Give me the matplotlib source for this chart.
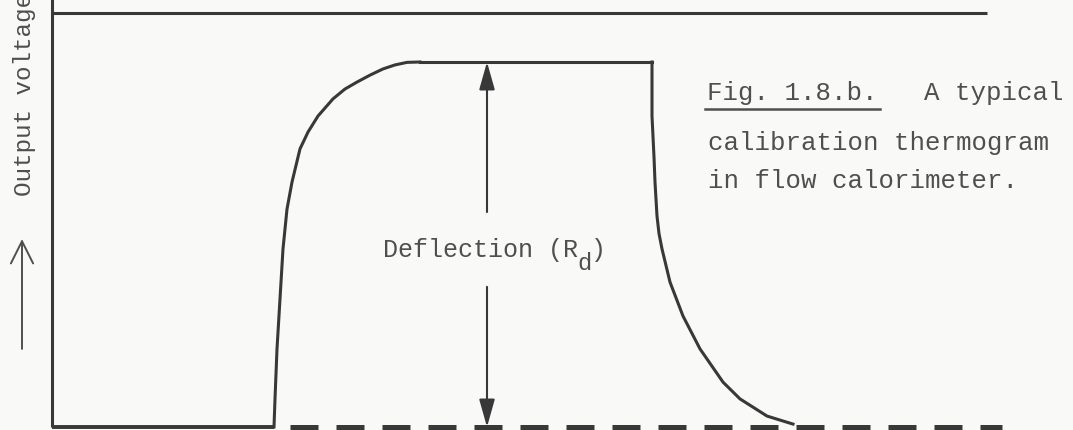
import matplotlib
matplotlib.use("Agg")
import matplotlib.pyplot as plt

# --- thermogram data (time in arbitrary units, output voltage normalised to plateau) ---
rise_t = [2.22, 2.23, 2.25, 2.28, 2.31, 2.35, 2.40, 2.48, 2.56, 2.66, 2.81, 2.93,
          3.05, 3.18, 3.31, 3.43, 3.55, 3.68]
rise_v = [0.000, 0.077, 0.214, 0.351, 0.488, 0.597, 0.671, 0.762, 0.808, 0.852,
          0.899, 0.926, 0.945, 0.964, 0.981, 0.992, 0.999, 1.000]

plateau_t = [3.68, 6.00]
plateau_v = [1.0, 1.0]

decay_t = [6.00, 6.00, 6.02, 6.03, 6.05, 6.07, 6.10, 6.18, 6.31, 6.48, 6.71, 6.88,
           7.15, 7.41]
decay_v = [1.000, 0.852, 0.740, 0.671, 0.578, 0.530, 0.488, 0.397, 0.304, 0.214,
           0.123, 0.077, 0.030, 0.008]

baseline_t = [0.0, 2.22]          # solid baseline before the heater is switched on
dashed_base_t = [2.38, 9.50]      # extrapolated baseline
upper_t = [0.0, 9.35]             # upper reference line
upper_v = 1.134
deflection_t = 4.35               # where the deflection R_d is measured

INK = "#383838"
TEXT = "#4f4f4f"
MONO = ["Liberation Mono", "DejaVu Sans Mono"]
FS = 18.5

fig = plt.figure(figsize=(10.73, 4.31), dpi=100, facecolor="#f9f9f8")
ax = fig.add_axes([0, 0, 1, 1])
ax.set_facecolor("#f9f9f8")
ax.set_xlim(-0.52, 10.21)
ax.set_ylim(-0.0082, 1.1726)
ax.axis("off")

lw = 2.2
# axes of the recorder trace
ax.plot([0, 0], [0, 1.2], color=INK, lw=lw, solid_capstyle="butt")
ax.plot(upper_t, [upper_v, upper_v], color=INK, lw=lw, solid_capstyle="butt")
ax.plot(baseline_t, [0, 0], color=INK, lw=lw + 0.6, solid_capstyle="butt")
ax.plot(dashed_base_t, [0, 0], color=INK, lw=3.6, dashes=(5.6, 3.6),
        solid_capstyle="butt")

# the thermogram itself
ax.plot(rise_t, rise_v, color=INK, lw=lw, solid_joinstyle="round")
ax.plot(plateau_t, plateau_v, color=INK, lw=lw)
ax.plot(decay_t, decay_v, color=INK, lw=lw, solid_joinstyle="round")

# deflection arrows
arrow_kw = dict(arrowstyle="-|>,head_length=0.85,head_width=0.24", color=INK,
                lw=1.5, shrinkA=0, shrinkB=0, mutation_scale=20)
ax.annotate("", xy=(deflection_t, 1.0), xytext=(deflection_t, 0.589),
            arrowprops=arrow_kw)
ax.annotate("", xy=(deflection_t, 0.0), xytext=(deflection_t, 0.384),
            arrowprops=arrow_kw)

# "Deflection (R_d)" typed in monospace, with a full-size lowered subscript
char_pt = 0.6 * 18
lab_x, lab_y = 3.31, 0.468
ax.text(lab_x, lab_y, "Deflection (R", family=MONO, fontsize=18, color=TEXT,
        ha="left", va="baseline")
ax.annotate("d", xy=(lab_x, lab_y), xytext=(13 * char_pt - 0.5, -9),
            textcoords="offset points", family=MONO, fontsize=17, color=TEXT,
            ha="left", va="baseline")
ax.annotate(")", xy=(lab_x, lab_y), xytext=(14 * char_pt - 1.5, 0),
            textcoords="offset points", family=MONO, fontsize=18, color=TEXT,
            ha="left", va="baseline")

# y-axis label with hand-drawn arrow
ax.annotate("", xy=(-0.30, 0.515), xytext=(-0.30, 0.214),
            arrowprops=dict(arrowstyle="->,head_length=0.8,head_width=0.4",
                            color=TEXT, lw=1.4, shrinkA=0, shrinkB=0,
                            mutation_scale=20))
ax.text(-0.27, 0.635, "Output voltage", rotation=90, family=MONO,
        fontsize=17.5, color=TEXT, ha="center", va="bottom")

# caption
ax.text(6.55, (428 - 100) / 365, "Fig. 1.8.b.   A typical", family=MONO,
        fontsize=FS, color=TEXT, ha="left", va="baseline")
ax.plot([6.53, 8.28], [(428 - 110) / 365] * 2, color=TEXT, lw=1.8)
ax.text(6.56, (428 - 150) / 365, "calibration thermogram", family=MONO,
        fontsize=FS, color=TEXT, ha="left", va="baseline")
ax.text(6.56, (428 - 188) / 365, "in flow calorimeter.", family=MONO,
        fontsize=FS, color=TEXT, ha="left", va="baseline")

fig.savefig("out.png", dpi=100, facecolor=fig.get_facecolor())
